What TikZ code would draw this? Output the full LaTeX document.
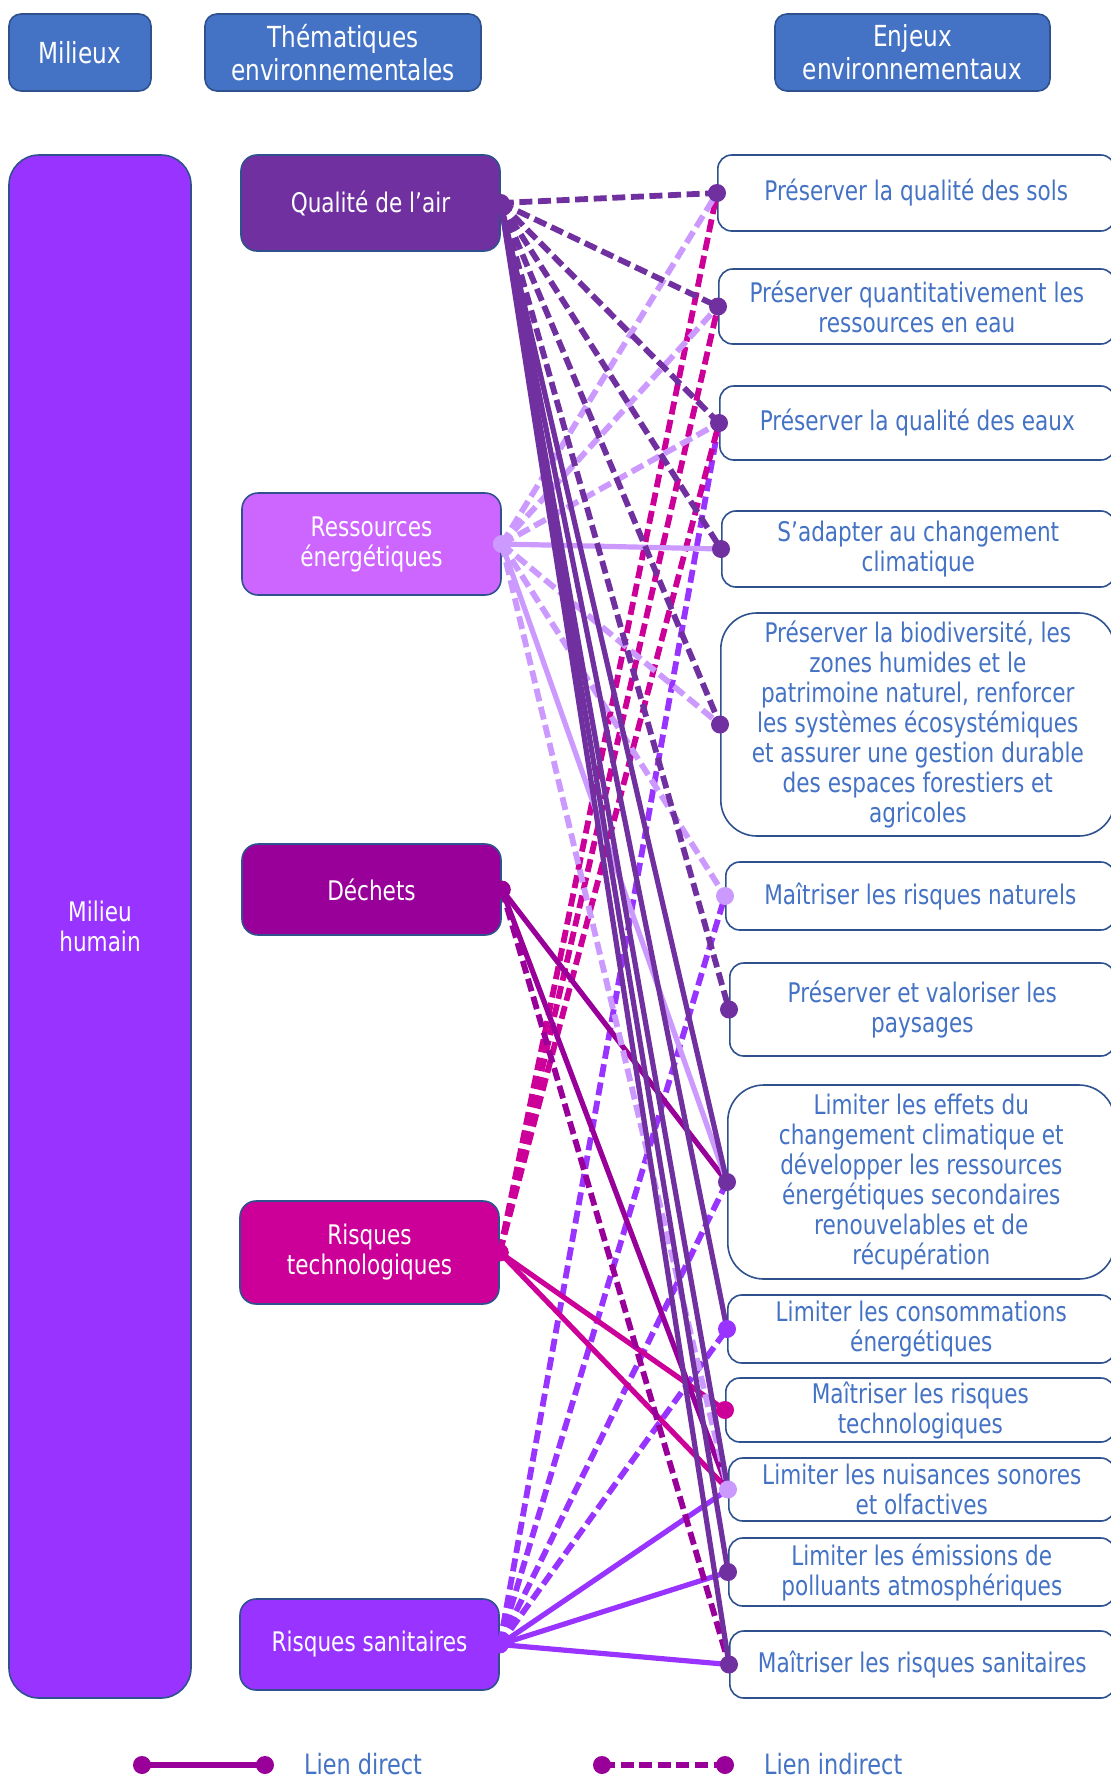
\documentclass[tikz,border=0pt]{standalone}
\usepackage{fontspec}
\setmainfont{DejaVu Sans}[FakeStretch=0.8]
\usepackage{xcolor}
\definecolor{hdr}{HTML}{4472C4}
\definecolor{edge}{HTML}{2F528F}
\definecolor{air}{HTML}{7030A0}
\definecolor{nrj}{HTML}{CC66FF}
\definecolor{nrjline}{HTML}{CC99FF}
\definecolor{dech}{HTML}{990099}
\definecolor{tech}{HTML}{CC0099}
\definecolor{sani}{HTML}{9933FF}
\usepackage{tikz}
\usetikzlibrary{positioning}

\begin{document}
\begin{tikzpicture}[x=0.5pt,y=-0.5pt,
  head/.style={draw=edge,fill=hdr,text=white,rounded corners=6pt,align=center,font=\fontsize{14.5}{16.5}\selectfont,
              minimum height=38.5pt,line width=0.8pt,inner sep=0pt},
  theme/.style={draw=edge,text=white,rounded corners=8pt,align=center,font=\fontsize{13.5}{15}\selectfont,
              minimum width=129.5pt,line width=0.8pt,inner sep=0pt},
  issue/.style={draw=edge,fill=white,text=hdr,rounded corners=7pt,align=center,font=\fontsize{13.5}{15}\selectfont,
              anchor=west,line width=0.8pt,inner sep=0pt},
  direct/.style={line width=2.6pt},
  indirect/.style={line width=2.9pt,dash pattern=on 6.5pt off 2.8pt},
  legtext/.style={text=hdr,anchor=west,font=\fontsize{14}{16}\selectfont}]
\useasboundingbox (0,0) rectangle (1110,1778);
\node[head,minimum width=71pt] (mil) at (80,52.5) {Milieux};
\node[head,minimum width=138pt] (thm) at (343,52.5) {Thématiques\\environnementales};
\node[head,minimum width=137.5pt] (enj) at (912.5,52.5) {Enjeux\\environnementaux};
\node[theme,fill=sani,rounded corners=15pt,minimum width=91pt,minimum height=771.5pt] (hum) at (100,926.5) {Milieu\\humain};
\node[theme,fill=air,minimum height=48pt] (qa) at (370.5,203) {Qualité de l’air};
\node[theme,fill=nrj,minimum height=51pt] (re) at (371.5,544) {Ressources\\énergétiques};
\node[theme,fill=dech,minimum height=45.5pt] (de) at (371.5,889.5) {Déchets};
\node[theme,fill=tech,minimum height=51.5pt] (rt) at (369.5,1252.5) {Risques\\technologiques};
\node[theme,fill=sani,minimum height=45.5pt] (rs) at (369.5,1644.5) {Risques sanitaires};
\node[issue,minimum width=198.5pt,minimum height=38pt] (e1) at (717,193) {Préserver la qualité des sols};
\node[issue,minimum width=198pt,minimum height=37.5pt] (e2) at (718,306.5) {Préserver quantitativement les\\ressources en eau};
\node[issue,minimum width=197.5pt,minimum height=37pt] (e3) at (719,423) {Préserver la qualité des eaux};
\node[issue,minimum width=196.5pt,minimum height=38pt] (e4) at (721,549) {S’adapter au changement\\climatique};
\node[issue,minimum width=197pt,minimum height=111.5pt,rounded corners=18pt] (e5) at (720,724.5)
  {Préserver la biodiversité, les\\zones humides et le\\patrimoine naturel, renforcer\\les systèmes écosystémiques\\et assurer une gestion durable\\des espaces forestiers et\\agricoles};
\node[issue,minimum width=194.5pt,minimum height=34pt] (e6) at (725,896) {Maîtriser les risques naturels};
\node[issue,minimum width=192.5pt,minimum height=46.5pt] (e7) at (729,1009.5) {Préserver et valoriser les\\paysages};
\node[issue,minimum width=193.5pt,minimum height=97pt,rounded corners=18pt] (e8) at (727,1182)
  {Limiter les effets du\\changement climatique et\\développer les ressources\\énergétiques secondaires\\renouvelables et de\\récupération};
\node[issue,minimum width=193.5pt,minimum height=34pt] (e9) at (727,1329) {Limiter les consommations\\énergétiques};
\node[issue,minimum width=194.5pt,minimum height=32pt] (e10) at (725,1410) {Maîtriser les risques\\technologiques};
\node[issue,minimum width=193pt,minimum height=31.5pt] (e11) at (728,1489.5) {Limiter les nuisances sonores\\et olfactives};
\node[issue,minimum width=193pt,minimum height=34pt] (e12) at (728,1572) {Limiter les émissions de\\polluants atmosphériques};
\node[issue,minimum width=192.5pt,minimum height=33.5pt] (e13) at (729,1664.5) {Maîtriser les risques sanitaires};
\draw[indirect,sani] (rs.east) -- (e3.west); \draw[indirect,sani] (rs.east) -- (e6.west);
\draw[indirect,sani] (rs.east) -- (e8.west); \draw[indirect,sani] (rs.east) -- (e9.west);
\draw[direct,sani] (rs.east) -- (e11.west); \draw[direct,sani] (rs.east) -- (e12.west); \draw[direct,sani] (rs.east) -- (e13.west);
\draw[indirect,tech] (rt.east) -- (e1.west); \draw[indirect,tech] (rt.east) -- (e2.west); \draw[indirect,tech] (rt.east) -- (e3.west);
\draw[direct,tech] (rt.east) -- (e10.west); \draw[direct,tech] (rt.east) -- (e11.west);
\draw[direct,dech] (de.east) -- (e8.west); \draw[direct,dech] (de.east) -- (e11.west); \draw[indirect,dech] (de.east) -- (e13.west);
\draw[indirect,nrjline] (re.east) -- (e1.west); \draw[indirect,nrjline] (re.east) -- (e2.west); \draw[indirect,nrjline] (re.east) -- (e3.west);
\draw[direct,nrjline] (re.east) -- (e4.west); \draw[indirect,nrjline] (re.east) -- (e5.west); \draw[indirect,nrjline] (re.east) -- (e6.west);
\draw[direct,nrjline] (re.east) -- (e8.west); \draw[indirect,nrjline] (re.east) -- (e11.west);
\draw[indirect,air] (qa.east) -- (e1.west); \draw[indirect,air] (qa.east) -- (e2.west); \draw[indirect,air] (qa.east) -- (e3.west);
\draw[indirect,air] (qa.east) -- (e4.west); \draw[indirect,air] (qa.east) -- (e5.west); \draw[indirect,air] (qa.east) -- (e7.west);
\draw[direct,air] (qa.east) -- (e8.west); \draw[direct,air] (qa.east) -- (e9.west); \draw[direct,air] (qa.east) -- (e11.west);
\draw[direct,air] (qa.east) -- (e12.west); \draw[direct,air] (qa.east) -- (e13.west);
\fill[air] (qa.east) circle (4.5pt); \fill[nrjline] (re.east) circle (4.5pt); \fill[dech] (de.east) circle (4.5pt);
\fill[tech] (rt.east) circle (4.5pt); \fill[sani] (rs.east) circle (4.5pt);
\fill[air] (e1.west) circle (4.5pt); \fill[air] (e2.west) circle (4.5pt); \fill[air] (e3.west) circle (4.5pt);
\fill[air] (e4.west) circle (4.5pt); \fill[air] (e5.west) circle (4.5pt); \fill[nrjline] (e6.west) circle (4.5pt);
\fill[air] (e7.west) circle (4.5pt); \fill[air] (e8.west) circle (4.5pt); \fill[sani] (e9.west) circle (4.5pt);
\fill[tech] (e10.west) circle (4.5pt); \fill[nrjline] (e11.west) circle (4.5pt); \fill[air] (e12.west) circle (4.5pt);
\fill[air] (e13.west) circle (4.5pt);
\coordinate (da) at (142,1765); \coordinate (db) at (265,1765);
\coordinate (ia) at (602,1765); \coordinate (ib) at (725,1765);
\draw[direct,dech] (da) -- (db); \fill[dech] (da) circle (4.5pt); \fill[dech] (db) circle (4.5pt);
\draw[indirect,dech] (ia) -- (ib); \fill[dech] (ia) circle (4.5pt); \fill[dech] (ib) circle (4.5pt);
\node[legtext] (ldir) at (297,1764) {Lien direct};
\node[legtext] (lind) at (757,1764) {Lien indirect};
\end{tikzpicture}
\end{document}
